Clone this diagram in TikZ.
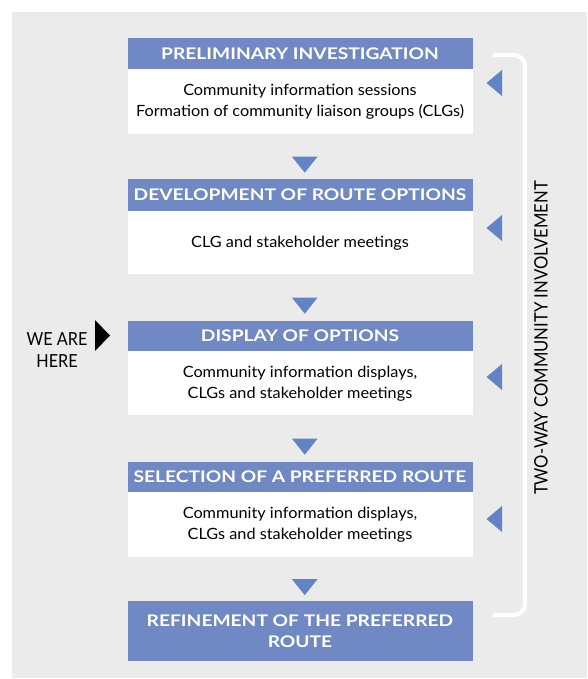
\documentclass[tikz,border=0pt]{standalone}
\usepackage{fontspec}
\setmainfont{Lato}
\newfontfamily\headfont[FakeStretch=1.2]{Lato}
\newfontfamily\bodyfont[FakeStretch=1.05]{Lato}
\newfontfamily\sidefont[FakeStretch=0.9]{Lato}
\newfontfamily\herefont[FakeStretch=0.9]{Lato}
\usetikzlibrary{calc}
\definecolor{panel}{HTML}{EBEBEB}
\definecolor{headblue}{HTML}{7088C4}
\definecolor{triblue}{HTML}{6283C6}

\begin{document}
\begin{tikzpicture}[x=1pt,y=-1pt,
  head/.style={fill=headblue, text=white, inner sep=0pt, align=center,
    minimum width=345pt, font=\headfont\bfseries\fontsize{16}{21}\selectfont},
  body/.style={fill=white, text=black, inner sep=0pt, align=center, anchor=north,
    minimum width=345pt, font=\bodyfont\fontsize{15.5}{21}\selectfont},
  tri/.style={fill=triblue},
  sidetext/.style={font=\sidefont\fontsize{18.5}{20}\selectfont, inner sep=0pt},
]
\useasboundingbox (0,0) rectangle (587,679);
\fill[panel] (12,12) rectangle (587,678);

% stages
\node[head, minimum height=31pt] (h1) at (300,53.5) {PRELIMINARY INVESTIGATION};
\node[body, minimum height=65pt] (b1) at (h1.south) {Community information sessions\\Formation of community liaison groups (CLGs)};
\node[head, minimum height=32pt] (h2) at (300,195) {DEVELOPMENT OF ROUTE OPTIONS};
\node[body, minimum height=63pt] (b2) at (h2.south) {CLG and stakeholder meetings};
\node[head, minimum height=30pt] (h3) at (300,336) {DISPLAY OF OPTIONS};
\node[body, minimum height=64pt] (b3) at (h3.south) {Community information displays,\\CLGs and stakeholder meetings};
\node[head, minimum height=30pt] (h4) at (300,477) {SELECTION OF A PREFERRED ROUTE};
\node[body, minimum height=65pt] (b4) at (h4.south) {Community information displays,\\CLGs and stakeholder meetings};
\node[head, minimum height=60pt] (h5) at (300,631) {REFINEMENT OF THE PREFERRED\\ROUTE};

% downward arrows between stages
\newcommand\stagearrow[2]{%
  \fill[tri] ($(#1.south)!0.5!(#2.north)+(-8,0)$) -- ++(25.5,0) -- ++(-12.75,16) -- cycle;}
\stagearrow{b1}{h2}
\stagearrow{b2}{h3}
\stagearrow{b3}{h4}
\stagearrow{b4}{h5}

% feedback pointers
\foreach \y in {83,228,377,519}
  \fill[tri] (502,\y-13) -- (486.5,\y) -- (502,\y+13) -- cycle;

% involvement bracket
\draw[white, line width=4pt, rounded corners=11pt] (493,55) -- (525,55) -- (525,615) -- (493,615);
\node[sidetext, rotate=90] (side) at (541,338) {TWO-WAY COMMUNITY INVOLVEMENT};

% current stage marker
\node[font=\herefont\fontsize{18}{22.7}\selectfont, align=center, inner sep=0pt] (here) at (57,350) {WE ARE\\HERE};
\coordinate (mk) at (95,335.5);
\fill[black] (mk) ++(0,-15.5) -- ++(15,15.5) -- ++(-15,15.5) -- cycle;
\end{tikzpicture}
\end{document}
